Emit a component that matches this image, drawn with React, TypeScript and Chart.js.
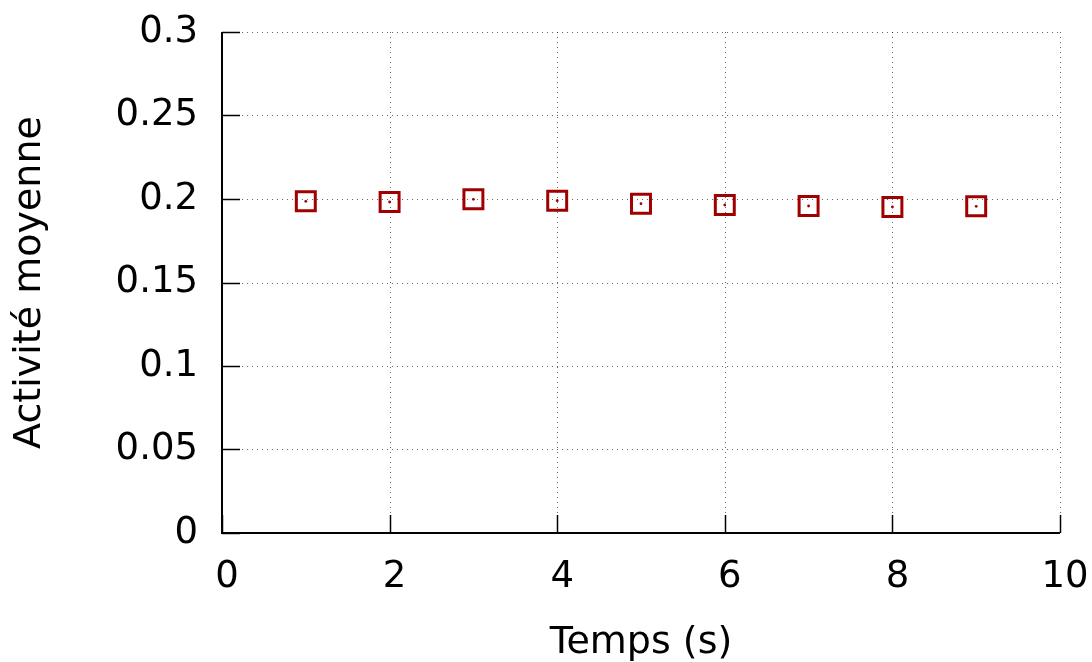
import React, { useEffect, useRef } from "react";
import { Chart, registerables } from "chart.js";

Chart.register(...registerables);

const timeSeconds = [1, 2, 3, 4, 5, 6, 7, 8, 9];
const meanActivity = [0.1986, 0.1982, 0.1998, 0.199, 0.1972, 0.1964, 0.1958, 0.1952, 0.1956];
const xTickValues = [0, 2, 4, 6, 8, 10];
const xTickLabels = ["0", "2", "4", "6", "8", "10"];
const yTickValues = [0, 0.05, 0.1, 0.15, 0.2, 0.25, 0.3];
const yTickLabels = ["0", "0.05", "0.1", "0.15", "0.2", "0.25", "0.3"];

const FONT = "'DejaVu Sans', sans-serif";
const RED = "#a00000";

const gridPlugin = {
  id: "gnuplotFrame",
  beforeDatasetsDraw(chart: any) {
    const { ctx, chartArea, scales } = chart;
    const { left, right, top, bottom } = chartArea;
    const xs = scales.x;
    const ys = scales.y;
    ctx.save();
    ctx.strokeStyle = "rgba(0,0,0,0.6)";
    ctx.lineWidth = 1;
    ctx.setLineDash([1, 4]);
    yTickValues.forEach((v) => {
      if (v === 0) return;
      const py = Math.round(ys.getPixelForValue(v)) + 0.5;
      ctx.beginPath();
      ctx.moveTo(left, py);
      ctx.lineTo(right, py);
      ctx.stroke();
    });
    xTickValues.forEach((v) => {
      if (v === 0) return;
      const px = Math.round(xs.getPixelForValue(v)) + 0.5;
      ctx.beginPath();
      ctx.moveTo(px, bottom);
      ctx.lineTo(px, top);
      ctx.stroke();
    });
    ctx.setLineDash([]);
    ctx.strokeStyle = "#000";
    ctx.lineWidth = 1.5;
    const tl = 18;
    yTickValues.forEach((v) => {
      const py = Math.round(ys.getPixelForValue(v)) + 0.5;
      ctx.beginPath();
      ctx.moveTo(left, py);
      ctx.lineTo(left + tl, py);
      ctx.stroke();
    });
    xTickValues.forEach((v) => {
      const px = Math.round(xs.getPixelForValue(v)) + 0.5;
      ctx.beginPath();
      ctx.moveTo(px, bottom);
      ctx.lineTo(px, bottom - tl);
      ctx.stroke();
    });
    ctx.lineWidth = 2;
    ctx.beginPath();
    ctx.moveTo(Math.round(left), Math.round(top));
    ctx.lineTo(Math.round(left), Math.round(bottom));
    ctx.lineTo(Math.round(right), Math.round(bottom));
    ctx.stroke();
    ctx.restore();
  },
};

export default function App() {
  const canvasRef = useRef<HTMLCanvasElement | null>(null);

  useEffect(() => {
    if (!canvasRef.current) return;
    const points = timeSeconds.map((x, i) => ({ x, y: meanActivity[i] }));
    const chart = new Chart(canvasRef.current, {
      type: "scatter",
      data: {
        datasets: [
          {
            label: "Activité moyenne",
            data: points,
            pointStyle: "rect",
            pointRadius: 13.4,
            pointHoverRadius: 13.4,
            pointBorderWidth: 3,
            pointBorderColor: RED,
            pointBackgroundColor: "rgba(0,0,0,0)",
            showLine: false,
          },
          {
            label: "centre",
            data: points,
            pointStyle: "circle",
            pointRadius: 1.4,
            pointHoverRadius: 1.4,
            pointBorderWidth: 0,
            pointBackgroundColor: RED,
            pointBorderColor: RED,
            showLine: false,
          },
        ],
      },
      options: {
        animation: false,
        responsive: false,
        devicePixelRatio: 1,
        events: [],
        layout: { padding: { top: 32, right: 32, left: 0, bottom: 0 } },
        plugins: {
          legend: { display: false },
          tooltip: { enabled: false },
        },
        scales: {
          x: {
            type: "linear",
            min: 0,
            max: 10,
            grid: { display: false, drawTicks: false },
            border: { display: false },
            afterFit: (scale: any) => {
              scale.height = 129;
              scale.paddingLeft = 0;
              scale.paddingRight = 0;
            },
            afterBuildTicks: (scale: any) => {
              scale.ticks = xTickValues.map((v) => ({ value: v }));
            },
            ticks: {
              padding: 22,
              labelOffset: 5,
              color: "#000",
              font: { family: FONT, size: 37 },
              maxRotation: 0,
              autoSkip: false,
              callback: (_v: any, i: number) => xTickLabels[i],
            },
            title: {
              display: true,
              text: "Temps (s)",
              color: "#000",
              font: { family: FONT, size: 38 },
              padding: { top: 0, bottom: -4 },
            },
          },
          y: {
            type: "linear",
            min: 0,
            max: 0.3,
            grid: { display: false, drawTicks: false },
            border: { display: false },
            afterFit: (scale: any) => {
              scale.width = 222;
              scale.paddingTop = 0;
              scale.paddingBottom = 0;
            },
            afterBuildTicks: (scale: any) => {
              scale.ticks = yTickValues.map((v) => ({ value: v }));
            },
            ticks: {
              padding: 24,
              color: "#000",
              font: { family: FONT, size: 37 },
              autoSkip: false,
              callback: (_v: any, i: number) => yTickLabels[i],
            },
            title: {
              display: true,
              text: "Activité moyenne",
              color: "#000",
              font: { family: FONT, size: 38 },
              padding: { top: 7, bottom: 0 },
            },
          },
        },
      },
      plugins: [gridPlugin],
    });
    return () => chart.destroy();
  }, []);

  return (
    <div style={{ position: "absolute", left: 0, top: 0, width: 1092, height: 662, background: "#fff" }}>
      <canvas ref={canvasRef} width={1092} height={662} style={{ display: "block" }} />
    </div>
  );
}
